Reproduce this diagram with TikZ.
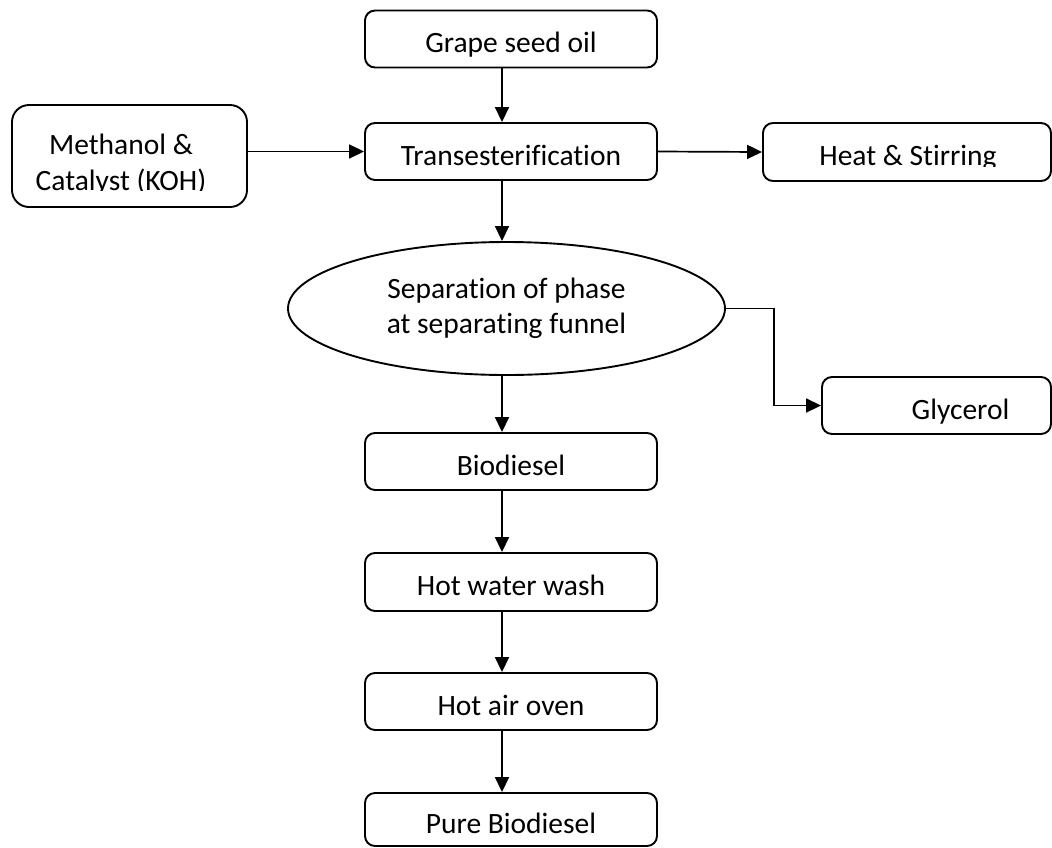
\documentclass[tikz,border=0pt]{standalone}
\usepackage{fontspec}
\setmainfont{Carlito}[Ligatures={NoCommon}]
\usetikzlibrary{arrows.meta,shapes.geometric}
\begin{document}
\begin{tikzpicture}[x=1pt,y=-1pt,
  font=\fontsize{29.5}{36.5}\selectfont,
  box/.style={draw, line width=1.9pt, rounded corners=10pt, minimum width=292pt, minimum height=57pt, inner sep=0pt, text height=27pt, text depth=0pt},
  oval/.style={draw, ellipse, line width=1.9pt, minimum width=437pt, minimum height=133pt, inner sep=0pt},
  arr/.style={line width=1.7pt, -{Triangle[length=15pt,width=14pt]}},
  txt/.style={inner sep=0pt}]
\useasboundingbox (0,0) rectangle (1052,847);
\coordinate (col) at (502,0);

\node[box] (grape) at (511,39) {Grape seed oil};
\node[box] (trans) at (511,151.5) {Transesterification};
\node[draw, line width=1.9pt, minimum width=235pt, minimum height=102pt, rounded corners=17pt] (meth) at (129.5,156) {};
\begin{scope}
  \clip (0,0) rectangle (1052,190);
  \node[txt, align=center] (methtext) at (121,164.5) {Methanol \&\\Catalyst (KOH)};
\end{scope}
\node[box, minimum width=288pt, minimum height=58pt] (heat) at (907,152) {};
\begin{scope}
  \clip (700,100) rectangle (1052,166);
  \node[txt] (heattext) at (908,158) {Heat \& Stirring};
\end{scope}
\node[oval, font=\fontsize{29.5}{35}\selectfont] (sep) at (506.5,308.5) {\raisebox{-3pt}{\begin{tabular}{@{}c@{}}Separation of phase\\at separating funnel\end{tabular}}};
\node[box, minimum width=229pt] (glyc) at (936.5,405.5) {\hspace*{48pt}Glycerol};
\node[box] (bio) at (511,461.5) {Biodiesel};
\node[box, minimum height=58pt] (wash) at (511,582) {Hot water wash};
\node[box] (oven) at (511,701.5) {Hot air oven};
\node[box, minimum height=53pt] (pure) at (511,819.5) {Pure Biodiesel};

\draw[arr] (grape.south -| col) -- (trans.north -| col);
\draw[arr] (meth.east |- trans.west) -- (trans.west);
\draw[arr] (trans.east) -- (heat.west);
\draw[arr] (trans.south -| col) -- (sep.north -| col);
\draw[arr] (sep.south -| col) -- (bio.north -| col);
\draw[arr] (sep.east) -- ++(48,0) |- (glyc.west);
\draw[arr] (bio.south -| col) -- (wash.north -| col);
\draw[arr] (wash.south -| col) -- (oven.north -| col);
\draw[arr] (oven.south -| col) -- (pure.north -| col);
\end{tikzpicture}
\end{document}
